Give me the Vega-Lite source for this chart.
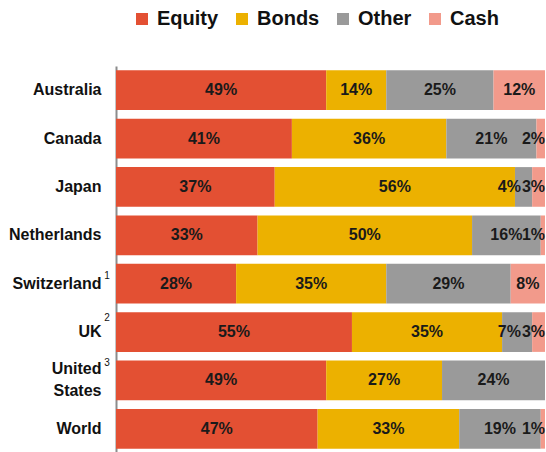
{
  "$schema": "https://vega.github.io/schema/vega-lite/v6.json",
  "width": 429,
  "height": 387,
  "autosize": {"type": "none"},
  "padding": {"left": 116, "top": 66, "right": 1, "bottom": 0},
  "background": "white",
  "config": {"view": {"stroke": null}, "font": "Liberation Sans"},
  "datasets": {
    "alloc": [
      {"country": "Australia", "type": "Equity", "pct": 49},
      {"country": "Australia", "type": "Bonds", "pct": 14},
      {"country": "Australia", "type": "Other", "pct": 25},
      {"country": "Australia", "type": "Cash", "pct": 12},
      {"country": "Canada", "type": "Equity", "pct": 41},
      {"country": "Canada", "type": "Bonds", "pct": 36},
      {"country": "Canada", "type": "Other", "pct": 21},
      {"country": "Canada", "type": "Cash", "pct": 2},
      {"country": "Japan", "type": "Equity", "pct": 37},
      {"country": "Japan", "type": "Bonds", "pct": 56},
      {"country": "Japan", "type": "Other", "pct": 4},
      {"country": "Japan", "type": "Cash", "pct": 3},
      {"country": "Netherlands", "type": "Equity", "pct": 33},
      {"country": "Netherlands", "type": "Bonds", "pct": 50},
      {"country": "Netherlands", "type": "Other", "pct": 16},
      {"country": "Netherlands", "type": "Cash", "pct": 1},
      {"country": "Switzerland", "type": "Equity", "pct": 28},
      {"country": "Switzerland", "type": "Bonds", "pct": 35},
      {"country": "Switzerland", "type": "Other", "pct": 29},
      {"country": "Switzerland", "type": "Cash", "pct": 8},
      {"country": "UK", "type": "Equity", "pct": 55},
      {"country": "UK", "type": "Bonds", "pct": 35},
      {"country": "UK", "type": "Other", "pct": 7},
      {"country": "UK", "type": "Cash", "pct": 3},
      {"country": "United States", "type": "Equity", "pct": 49},
      {"country": "United States", "type": "Bonds", "pct": 27},
      {"country": "United States", "type": "Other", "pct": 24},
      {"country": "World", "type": "Equity", "pct": 47},
      {"country": "World", "type": "Bonds", "pct": 33},
      {"country": "World", "type": "Other", "pct": 19},
      {"country": "World", "type": "Cash", "pct": 1}
    ],
    "notes": [
      {"country": "Switzerland", "note": "1"},
      {"country": "UK", "note": "2"},
      {"country": "United States", "note": "3"}
    ]
  },
  "data": {"name": "alloc"},
  "transform": [
    {"calculate": "indexof(['Equity','Bonds','Other','Cash'], datum.type)", "as": "k"},
    {"stack": "pct", "groupby": ["country"], "sort": [{"field": "k"}], "offset": "normalize", "as": ["v0", "v1"]},
    {"calculate": "(datum.v0 + datum.v1) / 2", "as": "mid"},
    {"calculate": "datum.type == 'Cash' && datum.pct < 5 ? 1 : (datum.type == 'Other' && datum.pct < 8 ? 0.944 : datum.mid)", "as": "lx"},
    {"calculate": "datum.lx != datum.mid", "as": "edge"},
    {"calculate": "datum.pct + '%'", "as": "lab"}
  ],
  "layer": [
    {
      "mark": {"type": "bar"},
      "encoding": {
        "y": {
          "field": "country", "type": "nominal",
          "scale": {"domain": ["Australia", "Canada", "Japan", "Netherlands", "Switzerland", "UK", "United States", "World"], "paddingInner": 0.18, "paddingOuter": 0.09},
          "axis": {
            "title": null, "ticks": false, "grid": false,
            "domainColor": "#8c8c8c", "domainWidth": 2,
            "labelFontSize": 16, "labelFontWeight": "bold", "labelColor": "#111111",
            "labelPadding": 15, "labelLineHeight": 22,
            "labelOffset": {"condition": {"test": "datum.value == 'United States'", "value": -11}, "value": 0},
            "labelExpr": "datum.value == 'United States' ? ['United', 'States'] : datum.value"
          }
        },
        "x": {"field": "v0", "type": "quantitative", "scale": {"domain": [0, 1]}, "axis": null},
        "x2": {"field": "v1"},
        "color": {
          "field": "type", "type": "nominal",
          "scale": {"domain": ["Equity", "Bonds", "Other", "Cash"], "range": ["#E35033", "#ECB100", "#9A9A9A", "#F29A8B"]},
          "legend": {
            "title": null, "orient": "none", "direction": "horizontal", "columns": 4,
            "legendX": 16, "legendY": -57, "padding": 0,
            "symbolType": "square", "symbolSize": 144, "symbolStrokeWidth": 0,
            "labelFontSize": 20, "labelFontWeight": "bold", "labelColor": "#111111",
            "labelOffset": 5, "columnPadding": 13
          }
        }
      }
    },
    {
      "transform": [{"filter": "!datum.edge"}],
      "mark": {"type": "text", "align": "center", "baseline": "middle", "fontSize": 16, "fontWeight": "bold", "color": "#1a1a1a"},
      "encoding": {
        "y": {"field": "country", "type": "nominal"},
        "x": {"field": "lx", "type": "quantitative"},
        "text": {"field": "lab"}
      }
    },
    {
      "transform": [{"filter": "datum.edge"}],
      "mark": {"type": "text", "align": "right", "baseline": "middle", "fontSize": 16, "fontWeight": "bold", "color": "#1a1a1a"},
      "encoding": {
        "y": {"field": "country", "type": "nominal"},
        "x": {"field": "lx", "type": "quantitative"},
        "text": {"field": "lab"}
      }
    },
    {
      "data": {"name": "notes"},
      "transform": [],
      "mark": {"type": "text", "align": "center", "baseline": "middle", "fontSize": 10, "color": "#111111", "dx": -9,
        "dy": {"expr": "datum.note == '1' ? -8 : (datum.note == '2' ? -14 : -17)"}},
      "encoding": {
        "y": {"field": "country", "type": "nominal"},
        "x": {"datum": 0, "type": "quantitative"},
        "text": {"field": "note"}
      }
    }
  ]
}
